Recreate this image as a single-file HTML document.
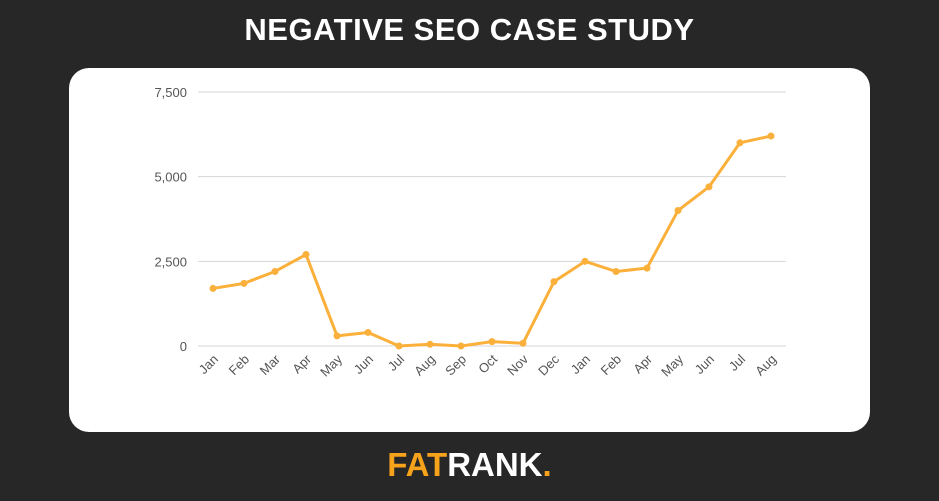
<!DOCTYPE html>
<html><head><meta charset="utf-8"><style>
body{margin:0;width:939px;height:501px;background:#272727;font-family:"Liberation Sans",sans-serif;overflow:hidden;position:relative}
#title{position:absolute;top:12px;left:0;width:939px;text-align:center;color:#fff;font-weight:bold;font-size:31px;letter-spacing:0.5px}
#card{position:absolute;left:69px;top:68px;width:801px;height:364px;background:#fff;border-radius:20px}
#logo{position:absolute;top:446px;left:0;width:939px;text-align:center;font-weight:bold;font-size:33px;color:#fff}
</style></head><body>
<div id="title">NEGATIVE SEO CASE STUDY</div>
<div id="card"></div>
<svg id="chart" width="939" height="501" style="position:absolute;left:0;top:0"></svg>
<div id="logo"><span style="color:#f7a21b">FAT</span>RANK<span style="color:#f7a21b">.</span></div>
<script>
const categories=["Jan","Feb","Mar","Apr","May","Jun","Jul","Aug","Sep","Oct","Nov","Dec","Jan","Feb","Apr","May","Jun","Jul","Aug"];
const values=[1700,1850,2200,2700,300,400,0,50,0,130,80,1900,2500,2200,2300,4000,4700,6000,6200];
const yTicks=[0,2500,5000,7500];
const yTickLabels=["0","2,500","5,000","7,500"];
const svg=document.getElementById('chart');
const NS='http://www.w3.org/2000/svg';
const x=i=>213+i*(771-213)/(categories.length-1);
const y=v=>346-v*(346-92)/7500;
function mk(t,a){const e=document.createElementNS(NS,t);for(const k in a)e.setAttribute(k,a[k]);svg.appendChild(e);return e;}
yTicks.forEach((t,i)=>{
 const l=mk('line',{x1:198,x2:786,y1:y(t),y2:y(t),stroke:'#d6d6d6','stroke-width':1});
 
 
 const tx=mk('text',{x:187,y:y(t)+5,'text-anchor':'end','font-size':13,fill:'#555','font-family':'Liberation Sans, sans-serif'});
 tx.textContent=yTickLabels[i];
 
 
});
categories.forEach((c,i)=>{
 const tx=mk('text',{x:x(i)+6,y:360,'text-anchor':'end','font-size':13,fill:'#555','font-family':'Liberation Sans, sans-serif',transform:`rotate(-45 ${x(i)+6} 360)`});
 tx.textContent=c;
 
 
});
const p=mk('polyline',{points:values.map((v,i)=>x(i)+','+y(v)).join(' '),fill:'none',stroke:'#fbb03b','stroke-width':3,'stroke-linejoin':'round'});


values.forEach((v,i)=>{
 const c=mk('circle',{cx:x(i),cy:y(v),r:3.5,fill:'#fbb03b'});
 
 
});
</script>
</body></html>
